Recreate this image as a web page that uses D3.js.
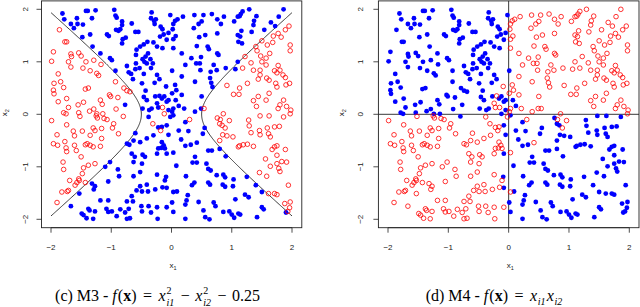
<!DOCTYPE html>
<html>
<head>
<meta charset="utf-8">
<script src="https://cdn.jsdelivr.net/npm/d3@7"></script>
<style>
  body { margin: 0; background: #fff; }
  svg { display: block; }
  text { white-space: pre; }
</style>
</head>
<body>
<svg width="640" height="307"></svg>
<script>
// the same sample (x1, x2) is shown in both panels, only the labels differ
var points = [
  // x2 in [1.5, 2]
  [-1.81,1.92],[-1.78,1.81],[-1.67,1.72],[-1.62,1.64],[-1.57,1.83],[-1.56,1.72],
  [-1.47,1.71],[-1.42,1.97],[-1.39,1.97],[-1.26,1.98],[-1.32,1.83],[-1.35,1.52],
  [-0.95,1.99],[-0.93,1.88],[-0.91,1.84],[-0.82,1.77],[-0.82,1.70],[-0.92,1.61],[-0.88,1.59],[-0.85,1.62],
  [-0.66,1.73],[-0.60,1.57],[-0.55,1.57],
  [-0.33,1.94],[-0.34,1.83],[-0.29,1.78],[-0.26,1.81],[-0.28,1.72],[-0.18,1.67],[-0.15,1.62],[-0.02,1.89],
  [-0.05,1.55],[-0.13,1.52],
  [0.03,1.72],[0.06,1.78],[0.10,1.81],[0.19,1.86],[0.02,1.62],[0.07,1.49],[0.38,1.89],[0.37,1.64],[0.45,1.72],
  [0.53,1.89],[0.67,1.91],[0.50,1.77],[0.76,1.81],[0.82,1.72],[0.87,1.86],[0.56,1.51],[0.76,1.54],
  [1.13,1.87],[1.15,1.91],[1.18,1.96],[1.29,2.00],[1.41,1.87],[1.37,1.78],[1.36,1.70],[1.10,1.86],
  [1.04,1.77],[1.16,1.59],[1.10,1.51],[1.33,1.57],
  [1.54,1.61],[1.65,1.75],[1.72,1.68],[1.78,1.86],[1.86,2.00],
  [-1.86,1.61],[1.95,1.68],[1.89,1.61],[1.77,1.54],[1.69,1.49],
  // x2 in [1, 1.5]
  [-1.77,1.38],[-1.74,1.38],[-1.96,1.19],[-1.99,1.01],[-1.67,1.15],[-1.66,1.10],[-1.71,1.00],[-1.54,1.17],
  [-1.50,1.11],[-1.42,1.00],[-1.29,1.03],
  [-1.48,1.47],[-1.31,1.29],[-1.18,1.16],[-1.02,1.07],[-1.04,1.49],[-1.07,1.52],
  [-0.99,1.03],[-0.76,1.46],[-0.81,1.43],[-0.82,1.35],[-0.58,1.23],[-0.52,1.29],[-0.59,1.13],
  [-0.46,1.33],[-0.40,1.38],[-0.48,1.05],[-0.45,1.00],[-0.43,1.10],[-0.39,1.16],[-0.24,1.29],[-0.30,1.37],
  [-0.15,1.26],[-0.08,1.42],[-0.19,1.48],[-0.35,1.05],
  [0.03,1.26],[0.17,1.16],[0.33,1.07],[0.49,1.09],[0.46,1.47],[0.42,1.30],[0.03,1.43],
  [0.60,1.29],[0.62,1.24],[0.76,1.16],[0.78,1.13],
  [1.11,1.38],[1.17,1.35],[1.10,1.00],[1.14,1.48],
  [1.40,1.29],[1.42,1.21],[1.48,1.11],[1.50,1.40],[1.22,1.10],[1.50,1.00],[1.59,1.32],[1.68,1.37],
  [1.97,1.32],[1.97,1.21],[1.63,1.16],[1.57,1.07],[1.82,1.47],
  // x2 in [0.5, 1]
  [-1.67,0.90],[-1.88,0.77],[-1.84,0.62],[-1.95,0.59],[-1.79,0.51],[-1.17,0.95],[-1.47,0.88],[-1.35,0.83],
  [-1.24,0.78],[-1.21,0.74],[-0.93,0.62],[-0.79,0.50],
  [-0.93,0.83],[-0.74,0.92],[-0.71,0.80],[-0.67,0.77],[-0.64,0.67],[-0.53,0.88],[-0.60,0.86],[-0.59,0.97],
  [-0.49,0.59],
  [-0.41,0.97],[-0.34,0.88],[-0.46,0.77],[-0.28,0.60],[-0.20,0.67],[-0.09,0.53],[-0.24,0.75],[-0.31,0.97],
  [0.01,0.83],[0.23,0.94],[0.41,0.97],[0.47,0.97],[0.06,0.56],[0.39,0.62],[0.17,0.72],[0.48,0.84],[0.75,0.84],
  [0.70,0.94],[0.65,0.81],[0.64,0.69],[0.66,0.60],[0.68,0.52],[0.90,0.88],
  [1.18,0.88],[1.47,0.75],[1.47,0.84],[1.44,0.67],[1.13,0.50],[1.26,0.59],[1.36,0.84],[1.32,0.98],
  [0.92,0.55],[1.06,0.86],
  [1.57,0.94],[1.77,0.93],[1.71,0.83],[1.75,0.79],[1.85,0.75],[1.89,0.70],[1.96,0.59],[1.90,0.56],
  [1.80,0.84],[1.73,0.59],[1.62,0.65],[1.75,0.52],[1.58,0.69],
  // x2 in [0, 0.5]
  [-1.96,0.46],[-1.95,0.39],[-1.74,0.30],[-1.71,0.13],[-1.46,0.23],[-1.43,0.48],[-1.38,0.50],[-1.18,0.27],
  [-1.15,0.19],[-1.29,0.10],[-1.03,0.37],[-1.01,0.34],[-0.89,0.32],[-0.74,0.45],[-0.69,0.43],[-0.92,0.10],
  [-1.36,0.06],[-1.88,0.24],[-1.55,0.18],
  [-0.77,0.18],[-0.48,0.11],[-0.37,0.08],[-0.27,0.34],[-0.24,0.21],[-0.20,0.35],[-0.16,0.30],[-0.12,0.34],
  [-0.08,0.24],[-0.05,0.08],[-0.33,0.11],[-0.22,0.13],[-0.43,0.45],[-0.46,0.33],[-0.41,0.27],[-0.15,0.13],
  [0.01,0.05],[0.03,0.11],[0.07,0.27],[0.12,0.16],[0.21,0.11],[0.08,0.46],[0.50,0.34],[0.49,0.11],
  [0.17,0.37],[-0.05,0.27],[0.01,0.40],[0.39,0.05],
  [0.54,0.11],[1.03,0.38],[1.12,0.38],[1.36,0.26],[1.41,0.15],[1.44,0.34],[1.77,0.11],[1.80,0.18],
  [1.91,0.15],[1.86,0.27],[1.57,0.27],[1.62,0.40],[1.98,0.08],
  // x1 < -1, x2 < 0
  [-1.99,-0.12],[-1.79,0.03],[-1.75,0.01],[-1.54,0.03],[-1.52,-0.04],[-1.24,0.01],[-1.25,-0.03],[-1.23,-0.07],
  [-1.14,0.01],[-1.12,-0.08],[-1.07,-0.10],[-1.74,-0.20],[-1.90,-0.39],[-1.63,-0.32],[-1.61,-0.41],[-1.48,-0.32],
  [-1.30,-0.26],[-1.27,-0.31],[-1.35,-0.40],[-1.16,-0.27],[-1.16,-0.46],[-1.96,-0.56],[-1.89,-0.59],[-1.77,-0.52],
  [-1.75,-0.64],[-1.74,-0.71],[-1.61,-0.59],[-1.58,-0.69],[-1.43,-0.58],[-1.40,-0.56],[-1.35,-0.59],[-1.30,-0.62],
  [-1.18,-0.61],[-1.50,-0.81],[-1.80,-0.91],[-1.79,-1.05],[-1.38,-0.97],[-1.27,-0.94],[-1.46,-1.02],[-1.48,-1.13],
  [-1.54,-1.23],[-1.69,-1.26],[-1.60,-1.35],[-1.57,-1.30],[-1.53,-1.26],[-1.43,-1.30],[-1.82,-1.48],[-1.73,-1.47],
  [-1.71,-1.45],[-1.90,-1.68],
  [-1.10,-1.00],[-1.02,-0.91],[-1.32,-1.32],[-1.27,-1.37],[-1.29,-1.43],[-1.05,-1.28],[-1.53,-1.51],[-1.18,-1.64],
  [-1.67,-1.75],[-1.49,-1.89],[-1.46,-1.92],[-1.38,-1.80],[-1.36,-1.83],[-1.41,-1.98],[-1.30,-1.99],[-1.27,-1.85],
  [-1.08,-1.80],[-1.05,-1.86],
  // x1 in [-1, 0], x2 < 0
  [-0.80,-0.04],[-0.96,-0.18],[-0.98,-0.26],[-0.88,-0.37],[-0.31,-0.18],[-0.18,-0.31],[-0.12,0.01],
  [-0.38,-0.05],[-0.02,-0.05],[0.03,-0.02],[-0.08,-0.21],[-0.16,-0.24],[-0.22,-0.25],[-0.60,-0.36],[-0.30,-0.40],
  [-0.41,-0.46],[-0.52,-0.53],[-0.63,-0.50],[-0.74,-0.56],[-0.70,-0.58],[-0.05,-0.39],[-0.16,-0.53],[-0.13,-0.59],
  [-0.17,-0.64],[-0.11,-0.65],[-0.22,-0.65],[-0.24,-0.75],[-0.08,-0.75],[0.03,-0.73],[-0.66,-0.75],[-0.61,-0.81],
  [-0.48,-0.77],[-0.44,-0.81],[-0.63,-0.91],[-0.49,-0.94],[-0.89,-1.05],[-0.87,-1.18],[-0.52,-1.10],[-0.63,-1.18],
  [-0.24,-1.15],[-0.09,-1.19],[-0.11,-1.26],[-0.52,-1.37],[-0.41,-1.34],[-0.58,-1.45],[-0.49,-1.47],[-0.39,-1.47],
  [-0.27,-1.43],[-0.15,-1.39],[-0.08,-1.40],[0.03,-1.48],[-0.66,-1.56],[-0.74,-1.66],[-0.64,-1.66],[-1.05,-1.64],
  [-0.50,-1.75],[-0.38,-1.75],[-0.24,-1.77],[-0.08,-1.77],[-0.99,-1.85],[-0.85,-1.81],[-0.71,-1.80],[-0.77,-1.87],
  [-0.49,-1.85],[-0.34,-1.87],[-0.91,-1.94],[-0.74,-1.99],[-0.69,-1.98],[-0.23,-1.99],[0.03,-1.86],
  // x1 in [0, 1], x2 < 0
  [0.76,-0.07],[0.81,-0.10],[0.86,0.01],[0.96,-0.12],[0.80,-0.18],[0.84,-0.21],[0.89,-0.26],[0.85,-0.39],
  [0.92,-0.41],[1.02,-0.43],[0.80,-0.50],[1.11,-0.62],[0.30,-0.10],
  [0.12,-0.31],[0.23,-0.15],[0.28,-0.32],[0.52,-0.37],[0.55,-0.26],[0.16,-0.48],[0.23,-0.60],[0.32,-0.58],
  [0.42,-0.54],[0.61,-0.69],[0.67,-0.69],[0.80,-0.66],[0.90,-0.80],[0.39,-0.81],[0.35,-0.92],[0.42,-0.92],
  [0.58,-0.94],[0.08,-0.98],[0.61,-1.04],[0.65,-1.07],[0.75,-1.16],[0.86,-1.15],[0.89,-1.20],[1.03,-1.24],
  [0.24,-1.18],[0.38,-1.30],[0.34,-1.35],[0.61,-1.30],[0.64,-1.34],[0.85,-1.34],[0.89,-1.38],[1.02,-1.37],
  [0.09,-1.47],[0.27,-1.54],[0.25,-1.64],[0.23,-1.72],[0.45,-1.67],[0.70,-1.68],[0.73,-1.75],[0.01,-1.68],
  [0.53,-1.83],[0.86,-1.86],[0.96,-1.85],[1.00,-1.91],[1.04,-1.97],[1.11,-1.89],[0.56,-1.96],[0.63,-2.00],
  [0.23,-1.99],
  // x1 > 1, x2 < 0
  [1.28,-0.11],[1.47,-0.03],[1.62,-0.03],[1.86,-0.05],[1.97,0.01],[1.29,-0.22],[1.32,-0.35],[1.46,-0.31],
  [1.47,-0.39],[1.61,-0.37],[1.64,-0.43],[1.59,-0.26],[1.71,-0.24],[1.79,-0.23],[1.13,-0.60],[1.19,-0.58],
  [1.26,-0.57],[1.36,-0.61],[1.71,-0.62],[1.75,-0.60],[1.67,-0.67],[1.56,-0.85],[1.75,-0.78],[1.89,-0.67],
  [1.75,-0.94],[1.64,-0.99],[1.83,-0.90],[1.91,-0.91],[1.80,-1.09],[1.46,-1.11],[1.58,-1.18],[1.94,-1.35],
  [1.61,-1.51],[1.71,-1.51],[1.75,-1.53],[1.88,-1.70],[1.97,-1.67],[1.93,-1.85],[1.78,-1.03],[1.96,-1.78],
  [1.90,-1.87],
  [1.25,-1.19],[1.40,-1.35],[1.50,-1.48],[1.22,-1.53],[1.28,-1.58],[1.06,-1.62],[1.50,-1.77],[1.53,-1.81],
  [1.14,-1.91],[1.42,-1.96]
];

// points whose plotted class is the opposite of the sign of f(x)
var m3Flips = [[-0.15,0.13],[-0.12,0.01],[-0.31,-0.18],[-0.18,-0.31],[0.30,-0.10],[1.06,0.86],[-0.77,0.18]];
var m4Flips = [[0.01,0.83],[0.07,0.27],[0.12,0.16],[-0.09,0.53],[-0.20,0.35],[-0.24,0.21],[-0.22,0.13],
  [-0.15,0.13],[0.30,-0.10],[0.81,-0.10],[0.96,-0.12],[0.89,-0.26],[0.42,-0.54],[0.03,-0.73],[0.03,-1.48],
  [-0.08,-0.21],[-0.05,-0.39],[-0.08,-0.75],[-0.09,-1.19],[-0.08,-1.40],[-0.80,-0.04]];

var tickValues = [-2, -1, 0, 1, 2];
var tickLabels = ["\u22122", "\u22121", "0", "1", "2"];

var svg = d3.select("svg");
var sans = "'Liberation Sans', Arial, sans-serif";
var serif = "'Liberation Serif', 'Times New Roman', serif";

function key(p) { return p[0].toFixed(2) + "," + p[1].toFixed(2); }
function flipSet(list) {
  var s = new Set();
  list.forEach(function (p) { s.add(key(p)); });
  return s;
}

var panels = [
  { xr: [51, 292], box: 41.5, boxR: 301.8, yLab: 27.8, ttl: 6.5, cx: 157.5,
    f: function (p) { return p[0] * p[0] - p[1] * p[1] - 0.25; }, flips: flipSet(m3Flips),
    caption: [
      {t: "(c) M3 - "}, {t: "f", i: 1}, {gap: 1}, {t: "("}, {t: "x", b: 1}, {t: ")"}, {gap: 6.5}, {t: "="}, {gap: 6.5},
      {t: "x", i: 1}, {stack: ["2", "i1"]}, {gap: 5.5}, {t: "\u2212"}, {gap: 5.5},
      {t: "x", i: 1}, {stack: ["2", "i2"]}, {gap: 5.5}, {t: "\u2212"}, {gap: 5.5}, {t: "0.25"}
    ] },
  { xr: [388, 629.3], box: 378.4, boxR: 639, yLab: 362.5, ttl: 343.5, cx: 494.5,
    f: function (p) { return p[0] * p[1]; }, flips: flipSet(m4Flips),
    caption: [
      {t: "(d) M4 - "}, {t: "f", i: 1}, {gap: 1}, {t: "("}, {t: "x", b: 1}, {t: ")"}, {gap: 6.5}, {t: "="}, {gap: 6.5},
      {t: "x", i: 1}, {sub: "i1"}, {t: "x", i: 1}, {sub: "i2"}
    ] }
];

var y = d3.scaleLinear().domain([-2, 2]).range([219.3, 9.3]);
var yTop = y(2.16), yBot = y(-2.16);

panels.forEach(function (P, pi) {
  var x = d3.scaleLinear().domain([-2, 2]).range(P.xr);
  var g = svg.append("g");

  // class boundary
  if (pi === 0) {
    var ymax = Math.sqrt(4 - 0.25);
    var ys = d3.range(-ymax, ymax, 0.02).concat([ymax]);
    [-1, 1].forEach(function (s) {
      g.append("path")
        .datum(ys)
        .attr("fill", "none")
        .attr("stroke", "#1a1a1a")
        .attr("stroke-width", 0.85)
        .attr("d", d3.line()
          .x(function (v) { return x(s * Math.sqrt(v * v + 0.25)); })
          .y(function (v) { return y(v); }));
    });
  } else {
    g.append("line").attr("x1", x(0)).attr("x2", x(0)).attr("y1", yTop).attr("y2", yBot)
      .attr("stroke", "#222").attr("stroke-width", 0.9);
    g.append("line").attr("x1", P.box).attr("x2", P.boxR).attr("y1", y(0)).attr("y2", y(0))
      .attr("stroke", "#222").attr("stroke-width", 0.9);
  }

  function isRed(p) {
    var r = P.f(p) > 0;
    if (P.flips.has(key(p))) r = !r;
    return r;
  }

  g.selectAll("circle.b").data(points.filter(function (p) { return !isRed(p); }))
    .enter().append("circle")
    .attr("cx", function (d) { return x(d[0]); })
    .attr("cy", function (d) { return y(d[1]); })
    .attr("r", 2.4)
    .attr("fill", "#0000ff");

  g.selectAll("circle.r").data(points.filter(isRed))
    .enter().append("circle")
    .attr("cx", function (d) { return x(d[0]); })
    .attr("cy", function (d) { return y(d[1]); })
    .attr("r", 2.3)
    .attr("fill", "none")
    .attr("stroke", "#ff0000")
    .attr("stroke-width", 0.8);

  // box
  g.append("rect").attr("x", P.box).attr("y", yTop)
    .attr("width", P.boxR - P.box).attr("height", yBot - yTop)
    .attr("fill", "none").attr("stroke", "#222").attr("stroke-width", 0.9);

  // x axis
  tickValues.forEach(function (t, i) {
    g.append("line").attr("x1", x(t)).attr("x2", x(t)).attr("y1", yBot).attr("y2", yBot + 5)
      .attr("stroke", "#222").attr("stroke-width", 0.8);
    g.append("text").attr("x", x(t)).attr("y", 249.5)
      .attr("text-anchor", "middle")
      .style("font-family", sans).style("font-size", "8px").attr("fill", "#222")
      .text(tickLabels[i]);
  });
  g.append("line").attr("x1", x(-2)).attr("x2", x(2)).attr("y1", yBot).attr("y2", yBot)
    .attr("stroke", "#222").attr("stroke-width", 0.8);

  // y axis
  tickValues.forEach(function (t, i) {
    g.append("line").attr("x1", P.box).attr("x2", P.box - 5).attr("y1", y(t)).attr("y2", y(t))
      .attr("stroke", "#222").attr("stroke-width", 0.8);
    g.append("text")
      .attr("transform", "translate(" + P.yLab + "," + y(t) + ") rotate(-90)")
      .attr("text-anchor", "middle")
      .style("font-family", sans).style("font-size", "8px").attr("fill", "#222")
      .text(tickLabels[i]);
  });

  // axis titles
  var xt = g.append("text").attr("x", x(0) - 2).attr("y", 268)
    .style("font-family", sans).style("font-size", "8px").attr("fill", "#222");
  xt.append("tspan").text("x");
  xt.append("tspan").attr("dy", 2).style("font-size", "5.5px").text("1");

  var yt = g.append("text")
    .attr("transform", "translate(" + P.ttl + "," + (y(0) + 2) + ") rotate(-90)")
    .style("font-family", sans).style("font-size", "8px").attr("fill", "#222");
  yt.append("tspan").text("x");
  yt.append("tspan").attr("dy", 2).style("font-size", "5.5px").text("2");

  // caption (math set with small stacked super/subscripts)
  var cg = g.append("g").style("font-family", serif).style("font-weight", "normal").attr("fill", "#000");
  var base = 301, cx = 0, fs = 16, small = 10;
  P.caption.forEach(function (c) {
    if (c.gap) {
      cx += c.gap;
    } else if (c.stack) {
      var a = cg.append("text").attr("x", cx + 0.8).attr("y", base - 7.2)
        .style("font-size", small + "px").text(c.stack[0]);
      var b = cg.append("text").attr("x", cx + 0.8).attr("y", base + 5)
        .style("font-size", small + "px").style("font-style", "italic").text(c.stack[1]);
      cx += Math.max(a.node().getComputedTextLength(), b.node().getComputedTextLength()) + 1.8;
    } else if (c.sub) {
      var sb = cg.append("text").attr("x", cx + 0.6).attr("y", base + 4)
        .style("font-size", small + "px").style("font-style", "italic").text(c.sub);
      cx += sb.node().getComputedTextLength() + 1.8;
    } else {
      var tx = cg.append("text").attr("x", cx).attr("y", base)
        .style("font-size", fs + "px")
        .style("font-style", c.i ? "italic" : "normal")
        .style("font-weight", c.b ? "bold" : "normal")
        .text(c.t);
      cx += tx.node().getComputedTextLength();
    }
  });
  cg.attr("transform", "translate(" + (P.cx - cx / 2) + ",0)");
});
</script>
</body>
</html>
